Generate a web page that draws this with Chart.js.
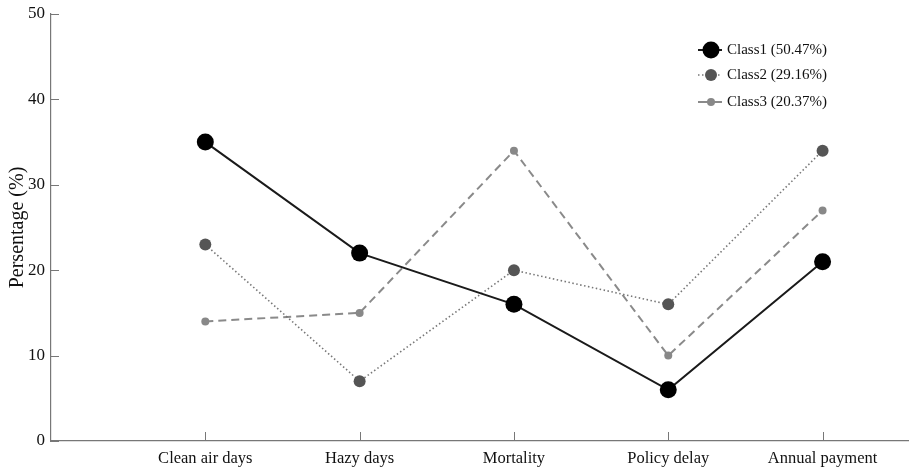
<!DOCTYPE html>
<html>
<head>
<meta charset="utf-8">
<script src="https://cdn.jsdelivr.net/npm/chart.js@4.4.0/dist/chart.umd.min.js"></script>
<style>
html,body{margin:0;padding:0;background:#fff;}
#wrap{width:909px;height:472px;position:relative;}
</style>
</head>
<body>
<div id="wrap"><canvas id="c" width="909" height="472"></canvas></div>
<script>
const categories = ["Clean air days", "Hazy days", "Mortality", "Policy delay", "Annual payment"];
const seriesNames = ["Class1 (50.47%)", "Class2 (29.16%)", "Class3 (20.37%)"];
const class1 = [35, 22, 16, 6, 21];
const class2 = [23, 7, 20, 16, 34];
const class3 = [14, 15, 34, 10, 27];
const yTicks = [0, 10, 20, 30, 40, 50];

const FONT = "'Liberation Serif', 'Times New Roman', serif";
const toPts = arr => arr.map((v, i) => ({x: i + 1, y: v}));

const styles = [
  {color: '#000000', line: '#1a1a1a', width: 2, dash: [], r: 8.5},
  {color: '#555555', line: '#777777', width: 1.6, dash: [1.5, 2.5], r: 6},
  {color: '#888888', line: '#8a8a8a', width: 2, dash: [8, 5], r: 4}
];
const seriesData = [class1, class2, class3];

const datasets = seriesData.map((d, k) => ({
  label: seriesNames[k],
  data: toPts(d),
  borderColor: styles[k].line,
  borderWidth: styles[k].width,
  borderDash: styles[k].dash,
  pointRadius: styles[k].r,
  pointHoverRadius: styles[k].r,
  pointBackgroundColor: styles[k].color,
  pointBorderColor: styles[k].color,
  pointBorderWidth: 0,
  fill: false,
  tension: 0,
  clip: false,
  order: k
}));

const innerTicks = {
  id: 'innerTicks',
  afterDraw(chart) {
    const ctx = chart.ctx, xs = chart.scales.x, ys = chart.scales.y, a = chart.chartArea;
    ctx.save();
    ctx.strokeStyle = '#777';
    ctx.lineWidth = 1;
    ctx.setLineDash([]);
    yTicks.forEach(v => {
      const y = Math.round(ys.getPixelForValue(v)) + 0.5;
      ctx.beginPath(); ctx.moveTo(a.left, y); ctx.lineTo(a.left + 8, y); ctx.stroke();
    });
    categories.forEach((c, i) => {
      const x = Math.round(xs.getPixelForValue(i + 1)) + 0.5;
      ctx.beginPath(); ctx.moveTo(x, a.bottom); ctx.lineTo(x, a.bottom - 9); ctx.stroke();
    });
    ctx.restore();
  }
};

const customLegend = {
  id: 'customLegend',
  afterDraw(chart) {
    const ctx = chart.ctx;
    const x0 = 698, x1 = 722, xm = 711, tx = 727;
    const ys = [50, 75, 102];
    ctx.save();
    chart.data.datasets.forEach((ds, k) => {
      const y = ys[k];
      ctx.strokeStyle = ds.borderColor;
      ctx.lineWidth = ds.borderWidth;
      ctx.setLineDash(k === 2 ? [] : ds.borderDash);
      ctx.beginPath(); ctx.moveTo(x0, y); ctx.lineTo(x1, y); ctx.stroke();
      ctx.setLineDash([]);
      ctx.fillStyle = ds.pointBackgroundColor;
      ctx.beginPath(); ctx.arc(xm, y, ds.pointRadius, 0, Math.PI * 2); ctx.fill();
      ctx.fillStyle = '#111';
      ctx.font = "15px " + FONT;
      ctx.textBaseline = 'middle';
      ctx.textAlign = 'left';
      ctx.fillText(ds.label, tx, y);
    });
    ctx.restore();
  }
};

new Chart(document.getElementById('c'), {
  type: 'line',
  data: {datasets},
  plugins: [innerTicks, customLegend],
  options: {
    responsive: false,
    animation: false,
    layout: {autoPadding: false, padding: {top: 14, right: 0, left: 0, bottom: 0}},
    plugins: {legend: {display: false}, tooltip: {enabled: false}},
    scales: {
      x: {
        type: 'linear',
        min: 0,
        max: 5.56,
        afterBuildTicks: s => { s.ticks = categories.map((c, i) => ({value: i + 1})); },
        afterFit: s => { s.height = 31; s.paddingRight = 0; s.paddingLeft = 0; },
        grid: {display: false, drawTicks: false},
        border: {display: true, color: '#777', width: 1.2},
        ticks: {
          autoSkip: false,
          maxRotation: 0,
          padding: 8,
          color: '#111',
          font: {family: FONT, size: 16.5},
          callback: v => categories[v - 1] || ''
        }
      },
      y: {
        min: 0,
        max: 50,
        afterBuildTicks: s => { s.ticks = yTicks.map(v => ({value: v})); },
        afterFit: s => { s.width = 51; s.paddingTop = 0; s.paddingBottom = 0; },
        grid: {display: false, drawTicks: false},
        border: {display: true, color: '#777', width: 1.2},
        ticks: {
          padding: 6,
          color: '#111',
          font: {family: FONT, size: 17}
        },
        title: {
          display: true,
          text: 'Persentage (%)',
          color: '#111',
          font: {family: FONT, size: 20},
          padding: {top: 6, bottom: 0}
        }
      }
    }
  }
});
</script>
</body>
</html>
